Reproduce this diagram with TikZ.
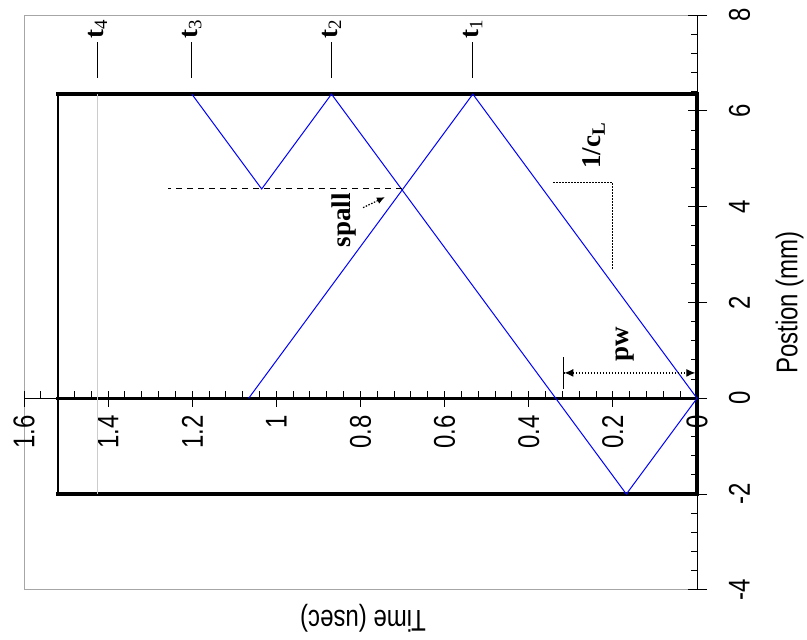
\documentclass[tikz,border=0pt]{standalone}
\usepackage{graphicx}
\usepackage{fontspec}
\setmainfont{Liberation Serif}
\setsansfont{Liberation Sans}
\usetikzlibrary{arrows.meta}
\newcommand{\tallsans}[1]{\scalebox{1}[1.25]{#1}}
\tikzset{
  every path/.style={
    line width=1pt
  },
  wave/.style={blue, line width=1pt},
  frameline/.style={black, line width=3.5pt, line cap=rect},
  ticklabel/.style={font=\sffamily\fontsize{24}{24}\selectfont, inner sep=2pt},
  marklabel/.style={font=\fontsize{27}{27}\selectfont\bfseries, inner sep=1pt},
  guide/.style={dash pattern=on 1.5pt off 1.5pt, line width=1.2pt}
}

\begin{document}
\begin{tikzpicture}[>=Latex]
\useasboundingbox (0,0) rectangle (807pt,640pt);
\begin{scope}[shift={(697pt,241.7pt)}, rotate=90, x=47.9pt, y=420.6pt, transform shape]

    % 外枠
    \draw[gray!70] (8,0) -- (8,1.6) -- (-4,1.6) -- (-4,0);

    % 座標軸
    \draw (-4,0) -- (8,0);
    \draw (0,0) -- (0,1.6);

    % 目盛り (位置)
    \foreach \p in {-4,-2,...,8}
        \draw (\p,-0.024) -- (\p,0.021);
    \foreach \p in {-3.6,-3.2,...,7.7}
        \draw (\p,0) -- (\p,0.014);
    \foreach \p in {-4,-2,0,2,4,6,8}
        \node[ticklabel, anchor=north] (pos\p) at (\p,-0.07) {\tallsans{\p}};

    % 目盛り (時間)
    \foreach \t in {0,0.2,...,1.6}
        \draw (0.15,\t) -- (-0.18,\t);
    \foreach \t in {0.04,0.08,...,1.58}
        \draw (0,\t) -- (0.15,\t);
    \foreach \t in {0,0.2,0.4,0.6,0.8,1,1.2,1.4,1.6}
        \node[ticklabel, anchor=east] (time\t) at (-0.3,\t) {\tallsans{\t}};

    % 軸ラベル
    \node[ticklabel] (postitle) at (2,-0.22) {\tallsans{Postion (mm)}};
    \node[ticklabel, rotate=90] (timetitle) at (-4.59,0.794) {\tallsans{Time (usec)}};

    % 試料の枠
    \draw[line width=2pt] (-2,1.52) -- (6.35,1.52);
    \draw[frameline] (-2,1.52) -- (-2,0) -- (6.35,0) -- (6.35,1.52);
    \draw[frameline] (0,0) -- (0,1.52);
    \draw[gray!40] (-2,1.425) -- (6.35,1.425);

    % 波の経路
    \coordinate (o) at (0,0);
    \coordinate (r1) at (-2,0.168);
    \coordinate (t1) at (6.35,0.533);
    \coordinate (t2) at (6.35,0.869);
    \coordinate (t3) at (6.35,1.201);
    \coordinate (f1) at (0,1.066);
    \coordinate (sp) at (4.37,0.701);
    \coordinate (sq) at (4.37,1.035);
    \draw[wave] (o) -- (t1) -- (f1);
    \draw[wave] (o) -- (r1) -- (t2) -- (sq) -- (t3);

    % 時刻 t1〜t4
    \foreach \n/\t in {1/0.533,2/0.869,3/1.201,4/1.425} {
        \draw (6.69,\t) -- (7.44,\t);
        \node[marklabel, anchor=west] (lab\n) at (7.47,\t)
            {t\textsubscript{\mdseries\n}};
    }

    % 破断面
    \coordinate (sd) at (4.37,1.258);
    \draw[dash pattern=on 6pt off 5pt] (sp) -- (sd);
    \node[marklabel] (spall) at (3.72,0.839) {spall};
    \coordinate (spA) at (3.98,0.794);
    \coordinate (spB) at (4.20,0.742);
    \draw[guide, -{Latex[length=8pt,width=7pt]}] (spA) -- (spB);

    % 傾き 1/c_L
    \coordinate (cA) at (4.50,0.342);
    \coordinate (cB) at (4.50,0.2);
    \coordinate (cC) at (2.68,0.2);
    \draw[guide] (cA) -- (cB) -- (cC);
    \node[marklabel] (cl) at (5.27,0.245) {1/c\textsubscript{L}};

    % パルス幅
    \coordinate (pwA) at (0.53,0.319);
    \coordinate (pwB) at (0.53,0.004);
    \draw[guide, {Bar[width=32pt,line width=1.5pt]Latex[length=9pt,width=8pt]}-{Latex[length=9pt,width=8pt]}]
        (pwA) -- (pwB);
    \node[marklabel] (pw) at (1.13,0.171) {pw};

\end{scope}
\end{tikzpicture}
\end{document}
